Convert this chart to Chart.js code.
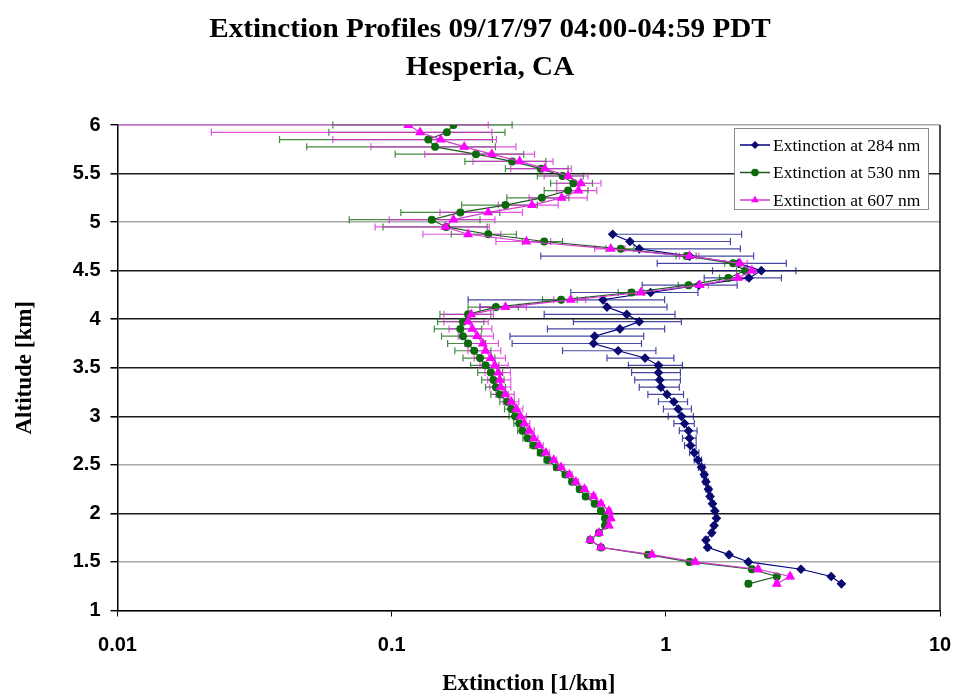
<!DOCTYPE html>
<html lang="en">
<head>
  <meta charset="UTF-8" />
  <title>Extinction Profiles</title>
  <style>
    html, body { margin: 0; padding: 0; background: #ffffff; }
    .chart-box { position: relative; width: 953px; height: 698px; }
  </style>
</head>
<body>

<div class="chart-box"><canvas id="extChart"></canvas></div>

<script src="https://cdn.jsdelivr.net/npm/chart.js"></script>
<script>
  // Altitude levels [km] for the 530 / 607 nm profiles
  const altitude = [6.000, 5.925, 5.850, 5.775, 5.700, 5.625, 5.550, 5.475, 5.400, 5.325,
    5.250, 5.175, 5.100, 5.025, 4.950, 4.875, 4.800, 4.725, 4.650, 4.575,
    4.500, 4.425, 4.350, 4.275, 4.200, 4.125, 4.050, 3.975, 3.900, 3.825,
    3.750, 3.675, 3.600, 3.525, 3.450, 3.375, 3.300, 3.225, 3.150, 3.075,
    3.000, 2.925, 2.850, 2.775, 2.700, 2.625, 2.550, 2.475, 2.400, 2.325,
    2.250, 2.175, 2.100, 2.025, 1.950, 1.875, 1.800, 1.725, 1.650, 1.575,
    1.500, 1.425, 1.350, 1.275];

  // 284 nm profile only starts below ~4.9 km
  const altitude284 = [4.875, 4.800, 4.725, 4.650, 4.575,
    4.500, 4.425, 4.350, 4.275, 4.200, 4.125, 4.050, 3.975, 3.900, 3.825,
    3.750, 3.675, 3.600, 3.525, 3.450, 3.375, 3.300, 3.225, 3.150, 3.075,
    3.000, 2.925, 2.850, 2.775, 2.700, 2.625, 2.550, 2.475, 2.400, 2.325,
    2.250, 2.175, 2.100, 2.025, 1.950, 1.875, 1.800, 1.725, 1.650, 1.575,
    1.500, 1.425, 1.350, 1.275];

  // Extinction [1/km] and error (+/-)
  const ext284 = [0.64, 0.74, 0.80, 1.22, 1.84, 2.23, 2.01, 1.32, 0.88, 0.59,
    0.61, 0.72, 0.80, 0.68, 0.55, 0.545, 0.67, 0.84, 0.94, 0.94,
    0.95, 0.96, 1.01, 1.07, 1.11, 1.14, 1.17, 1.21, 1.22, 1.23,
    1.27, 1.31, 1.35, 1.38, 1.40, 1.43, 1.45, 1.48, 1.51, 1.53,
    1.50, 1.47, 1.40, 1.42, 1.70, 2.00, 3.11, 4.01, 4.37];
  const err284 = [1.25, 0.98, 1.07, 0.87, 0.91, 0.75, 0.63, 0.50, 0.43, 0.40,
    0.40, 0.36, 0.34, 0.31, 0.28, 0.27, 0.25, 0.23, 0.21, 0.19,
    0.18, 0.16, 0.15, 0.13, 0.13, 0.12, 0.10, 0.09, 0.07, 0.06,
    0.05, 0.04, 0.035, 0.03, 0.03, 0.03, 0.025, 0.025, 0.02, 0.02,
    0.02, 0.02, 0.02, 0.02, 0.02, 0.02, 0.02, 0.02, 0.02];

  const ext530 = [0.168, 0.159, 0.136, 0.144, 0.203, 0.275, 0.35, 0.42, 0.46, 0.44,
    0.353, 0.26, 0.178, 0.14, 0.158, 0.225, 0.36, 0.685, 1.19, 1.76,
    1.95, 1.69, 1.21, 0.75, 0.415, 0.24, 0.19, 0.182, 0.178, 0.182,
    0.19, 0.20, 0.21, 0.22, 0.23, 0.235, 0.24, 0.248, 0.264, 0.273,
    0.282, 0.292, 0.30, 0.313, 0.33, 0.35, 0.37, 0.40, 0.43, 0.455,
    0.485, 0.51, 0.55, 0.58, 0.60, 0.60, 0.57, 0.53, 0.58, 0.86,
    1.22, 2.06, 2.54, 2.00];
  const err530 = [0.107, 0.10, 0.097, 0.095, 0.10, 0.09, 0.09, 0.08, 0.08, 0.08,
    0.09, 0.08, 0.07, 0.07, 0.065, 0.06, 0.06, 0.08, 0.10, 0.12,
    0.14, 0.12, 0.10, 0.08, 0.06, 0.05, 0.04, 0.035, 0.035, 0.03,
    0.03, 0.03, 0.028, 0.026, 0.024, 0.022, 0.02, 0.018, 0.016, 0.015,
    0.014, 0.013, 0.012, 0.012, 0.011, 0.01, 0.01, 0.01, 0.01, 0.01,
    0.01, 0.01, 0.01, 0.01, 0.01, 0.01, 0.01, 0.01, 0.01, 0.015,
    0.02, 0.03, 0.04, 0.04];

  const ext607 = [0.115, 0.127, 0.151, 0.184, 0.232, 0.293, 0.362, 0.44, 0.49, 0.48,
    0.417, 0.325, 0.225, 0.168, 0.157, 0.19, 0.31, 0.63, 1.22, 1.86,
    2.06, 1.83, 1.33, 0.81, 0.45, 0.26, 0.195, 0.19, 0.197, 0.205,
    0.215, 0.22, 0.23, 0.238, 0.245, 0.248, 0.25, 0.26, 0.273, 0.285,
    0.295, 0.305, 0.318, 0.33, 0.345, 0.365, 0.39, 0.415, 0.445, 0.47,
    0.505, 0.545, 0.58, 0.62, 0.63, 0.62, 0.57, 0.53, 0.58, 0.89,
    1.28, 2.17, 2.84, 2.54];
  const err607 = [0.11, 0.105, 0.09, 0.10, 0.10, 0.095, 0.09, 0.08, 0.09, 0.08,
    0.10, 0.08, 0.075, 0.07, 0.07, 0.06, 0.07, 0.08, 0.10, 0.12,
    0.15, 0.13, 0.10, 0.08, 0.06, 0.05, 0.04, 0.035, 0.035, 0.03,
    0.03, 0.03, 0.03, 0.028, 0.026, 0.024, 0.022, 0.02, 0.018, 0.016,
    0.015, 0.014, 0.013, 0.012, 0.012, 0.011, 0.01, 0.01, 0.01, 0.01,
    0.01, 0.01, 0.01, 0.01, 0.01, 0.01, 0.01, 0.01, 0.01, 0.015,
    0.02, 0.03, 0.04, 0.04];

  const xTicks = [0.01, 0.1, 1, 10];
  const yTicks = [1, 1.5, 2, 2.5, 3, 3.5, 4, 4.5, 5, 5.5, 6];
  const seriesNames = ['Extinction at 284 nm', 'Extinction at 530 nm', 'Extinction at 607 nm'];
  const titleLines = ['Extinction Profiles 09/17/97 04:00-04:59 PDT', 'Hesperia, CA'];

  const SERIF = "'Liberation Serif', 'Times New Roman', serif";
  const SANS = "'Liberation Sans', Arial, sans-serif";
  const darkGrid = [2, 3, 3.5, 4, 4.5, 5.5];

  function toPoints(xs, ys, errs) {
    return xs.map((v, i) => ({ x: v, y: ys[i], err: errs[i] }));
  }

  // horizontal error bars, drawn under the markers
  const errorBars = {
    id: 'errorBars',
    beforeDatasetsDraw(chart) {
      const { ctx, chartArea: a, scales: { x, y } } = chart;
      ctx.save();
      ctx.beginPath();
      ctx.rect(a.left, a.top - 5, a.right - a.left, a.bottom - a.top + 10);
      ctx.clip();
      chart.data.datasets.forEach(ds => {
        ctx.strokeStyle = ds.errColor;
        ctx.lineWidth = 1.2;
        ds.data.forEach(p => {
          const py = y.getPixelForValue(p.y);
          const xc = x.getPixelForValue(p.x);
          const xr = x.getPixelForValue(p.x + p.err);
          const lo = p.x - p.err;
          const xl = lo > 0 ? x.getPixelForValue(lo) : xc;
          ctx.beginPath();
          ctx.moveTo(xl, py);
          ctx.lineTo(xr, py);
          ctx.moveTo(xr, py - 3.5);
          ctx.lineTo(xr, py + 3.5);
          if (lo > 0) {
            ctx.moveTo(xl, py - 3.5);
            ctx.lineTo(xl, py + 3.5);
          }
          ctx.stroke();
        });
      });
      ctx.restore();
    }
  };

  // title, right frame line and the boxed legend
  const decorations = {
    id: 'decorations',
    beforeDatasetsDraw(chart) {
      const { ctx, chartArea: a } = chart;
      ctx.save();
      ctx.strokeStyle = '#111';
      ctx.lineWidth = 1.5;
      ctx.beginPath();
      ctx.moveTo(a.right, a.top);
      ctx.lineTo(a.right, a.bottom);
      ctx.stroke();
      ctx.restore();
    },
    afterDraw(chart) {
      const { ctx } = chart;
      ctx.save();
      ctx.fillStyle = '#000';
      ctx.textAlign = 'center';
      ctx.textBaseline = 'alphabetic';
      ctx.font = 'bold 27px ' + SERIF;
      [[titleLines[0], 37], [titleLines[1], 75]].forEach(([t, ty]) => {
        ctx.save();
        ctx.translate(490, ty);
        ctx.scale(1.08, 1);
        ctx.fillText(t, 0, 0);
        ctx.restore();
      });

      // legend box
      const bx = 734, by = 128, bw = 194, bh = 81;
      ctx.fillStyle = '#fff';
      ctx.fillRect(bx, by, bw, bh);
      ctx.strokeStyle = '#8a8a8a';
      ctx.lineWidth = 1;
      ctx.strokeRect(bx + 0.5, by + 0.5, bw, bh);
      ctx.textAlign = 'left';
      ctx.textBaseline = 'middle';
      ctx.font = '17.5px ' + SERIF;
      chart.data.datasets.forEach((ds, i) => {
        const ry = by + 17 + i * 27.5;
        ctx.strokeStyle = ds.borderColor;
        ctx.lineWidth = 1.5;
        ctx.beginPath();
        ctx.moveTo(bx + 6, ry);
        ctx.lineTo(bx + 36, ry);
        ctx.stroke();
        ctx.fillStyle = ds.pointBackgroundColor;
        ctx.strokeStyle = ds.pointBorderColor;
        Chart.helpers.drawPoint(ctx, {
          pointStyle: ds.pointStyle, radius: 3, borderWidth: 1
        }, bx + 21, ry);
        ctx.fillStyle = '#000';
        ctx.fillText(seriesNames[i], bx + 39, ry + 1);
      });
      ctx.restore();
    }
  };

  new Chart(document.getElementById('extChart').getContext('2d'), {
    type: 'scatter',
    data: {
      datasets: [
        {
          label: seriesNames[0],
          data: toPoints(ext284, altitude284, err284),
          showLine: true,
          borderColor: '#000080',
          borderWidth: 1.2,
          pointStyle: 'rectRot',
          pointRadius: 4,
          pointBackgroundColor: '#0a0a70',
          pointBorderColor: '#0a0a70',
          errColor: 'rgba(25, 25, 140, 0.8)',
          order: 3
        },
        {
          label: seriesNames[1],
          data: toPoints(ext530, altitude, err530),
          showLine: true,
          borderColor: '#1f5a1f',
          borderWidth: 1.2,
          pointStyle: 'circle',
          pointRadius: 3.4,
          pointBackgroundColor: '#0b6b0b',
          pointBorderColor: '#0b6b0b',
          errColor: 'rgba(20, 110, 20, 0.8)',
          order: 2
        },
        {
          label: seriesNames[2],
          data: toPoints(ext607, altitude, err607),
          showLine: true,
          borderColor: '#d23ad2',
          borderWidth: 1.2,
          pointStyle: 'triangle',
          pointRadius: 4.6,
          pointBackgroundColor: '#ff00ff',
          pointBorderColor: '#ff00ff',
          errColor: 'rgba(220, 40, 220, 0.8)',
          order: 1
        }
      ]
    },
    options: {
      responsive: true,
      maintainAspectRatio: false,
      animation: false,
      layout: { padding: { top: 125, right: 2, bottom: 0, left: 0 } },
      plugins: {
        legend: { display: false },
        tooltip: { enabled: false }
      },
      scales: {
        x: {
          type: 'logarithmic',
          min: 0.01,
          max: 10,
          afterBuildTicks: axis => { axis.ticks = xTicks.map(v => ({ value: v })); },
          afterFit: scale => {
            scale.height = 87.5;
            scale.paddingLeft = 0;
            scale.paddingRight = 13;
          },
          ticks: {
            callback: v => String(v),
            color: '#000',
            font: { family: SANS, size: 20, weight: 'bold' },
            padding: 17,
            maxRotation: 0
          },
          grid: { drawOnChartArea: false, color: '#000', tickLength: 6 },
          border: { color: '#000', width: 1.5 },
          title: {
            display: true,
            text: 'Extinction [1/km]',
            color: '#000',
            font: { family: SERIF, size: 23, weight: 'bold' },
            padding: { top: 0, bottom: 0 }
          }
        },
        y: {
          type: 'linear',
          min: 1,
          max: 6,
          afterBuildTicks: axis => { axis.ticks = yTicks.map(v => ({ value: v })); },
          afterFit: scale => { scale.width = 117.5; },
          ticks: {
            callback: v => String(v),
            color: '#000',
            font: { family: SANS, size: 20, weight: 'bold' },
            padding: 10
          },
          grid: {
            color: c => darkGrid.includes(c.tick && c.tick.value) ? '#1a1a1a' : '#a8a8a8',
            lineWidth: c => darkGrid.includes(c.tick && c.tick.value) ? 1.6 : 1.4,
            tickColor: '#000',
            tickLength: 7
          },
          border: { color: '#000', width: 1.5 },
          title: {
            display: true,
            text: 'Altitude [km]',
            color: '#000',
            font: { family: SERIF, size: 23, weight: 'bold' },
            padding: { top: 11, bottom: 0 }
          }
        }
      }
    },
    plugins: [errorBars, decorations]
  });
</script>

</body>
</html>
